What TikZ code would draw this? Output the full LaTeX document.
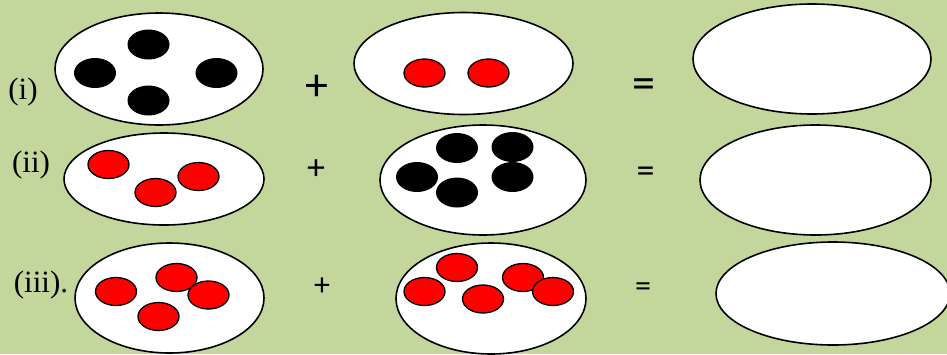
\documentclass[tikz,border=0pt]{standalone}
\usepackage{fontspec}
\setmainfont{Liberation Serif}
\newfontfamily\opsfont{Carlito}
\definecolor{bggreen}{RGB}{195,214,155}
\tikzset{
  plate/.style={draw=black, line width=1.6pt, fill=white},
  rdot/.style={draw=black, line width=1.3pt, fill=red},
  bdot/.style={fill=black},
  lab/.style={inner sep=0pt, font=\fontsize{31}{36}\selectfont},
  bigop/.style={inner sep=0pt, font=\opsfont\fontsize{46}{52}\selectfont},
  midop/.style={inner sep=0pt, font=\opsfont\fontsize{36}{42}\selectfont},
  smallop/.style={inner sep=0pt, font=\opsfont\fontsize{32}{38}\selectfont}
}
\begin{document}
\begin{tikzpicture}[x=1pt,y=-1pt]
\useasboundingbox (0,0) rectangle (947,354);
\clip (0,0) rectangle (947,354);
\fill[bggreen] (0,0) rectangle (947,354);
% Row 1
\node[lab] (l1) at (23,92) {(i)};
\draw[plate] (159,69) ellipse [x radius=104pt, y radius=56pt];
\fill[bdot] (148.5,44.5) ellipse [x radius=21pt, y radius=15pt];
\fill[bdot] (95,73) ellipse [x radius=21pt, y radius=15pt];
\fill[bdot] (216.5,73) ellipse [x radius=21pt, y radius=15pt];
\fill[bdot] (148.5,100.5) ellipse [x radius=21pt, y radius=15pt];
\node[bigop] (p1) at (317,88) {+};
\draw[plate] (463.5,63.5) ellipse [x radius=109.5pt, y radius=51pt];
\draw[rdot] (424.5,73) ellipse [x radius=20.5pt, y radius=14pt];
\draw[rdot] (488.5,73) ellipse [x radius=20.5pt, y radius=14pt];
\node[bigop] (e1) at (643.5,89) {=};
\draw[plate] (812,59) ellipse [x radius=119pt, y radius=55pt];
% Row 2
\node[lab] (l2) at (31,165) {(ii)};
\draw[plate] (164,179) ellipse [x radius=100pt, y radius=46pt];
\draw[rdot] (108.5,164.5) ellipse [x radius=20.5pt, y radius=14pt];
\draw[rdot] (155.5,192.5) ellipse [x radius=20.5pt, y radius=14pt];
\draw[rdot] (198.5,176.5) ellipse [x radius=20.5pt, y radius=14pt];
\node[midop] (p2) at (316,170) {+};
\draw[plate] (483,180) ellipse [x radius=103pt, y radius=55pt];
\fill[bdot] (417,177) ellipse [x radius=21pt, y radius=15pt];
\fill[bdot] (457,148) ellipse [x radius=21pt, y radius=15pt];
\fill[bdot] (512.5,147) ellipse [x radius=21pt, y radius=15pt];
\fill[bdot] (512.5,177) ellipse [x radius=21pt, y radius=15pt];
\fill[bdot] (457,192.5) ellipse [x radius=21pt, y radius=15pt];
\node[midop] (e2) at (645.5,175) {=};
\draw[plate] (815.5,180) ellipse [x radius=115.5pt, y radius=55pt];
% Row 3
\node[lab] (l3) at (41,285) {(iii).};
\draw[plate] (169.5,298) ellipse [x radius=94.5pt, y radius=55pt];
\draw[rdot] (116,291.5) ellipse [x radius=20.5pt, y radius=14pt];
\draw[rdot] (158.5,316.5) ellipse [x radius=20.5pt, y radius=14pt];
\draw[rdot] (176.5,277.5) ellipse [x radius=20.5pt, y radius=14pt];
\draw[rdot] (208.5,295) ellipse [x radius=20.5pt, y radius=14pt];
\node[smallop] (p3) at (322,287) {+};
\draw[plate] (491,298.5) ellipse [x radius=95pt, y radius=55.5pt];
\draw[rdot] (424.5,291.5) ellipse [x radius=20.5pt, y radius=14pt];
\draw[rdot] (457,267.5) ellipse [x radius=20.5pt, y radius=14pt];
\draw[rdot] (483,299) ellipse [x radius=20.5pt, y radius=14pt];
\draw[rdot] (523,277.5) ellipse [x radius=20.5pt, y radius=14pt];
\draw[rdot] (553,291.5) ellipse [x radius=20.5pt, y radius=14pt];
\node[smallop] (e3) at (643,289.5) {=};
\draw[plate] (833,293.5) ellipse [x radius=117pt, y radius=51.5pt];
\end{tikzpicture}
\end{document}
